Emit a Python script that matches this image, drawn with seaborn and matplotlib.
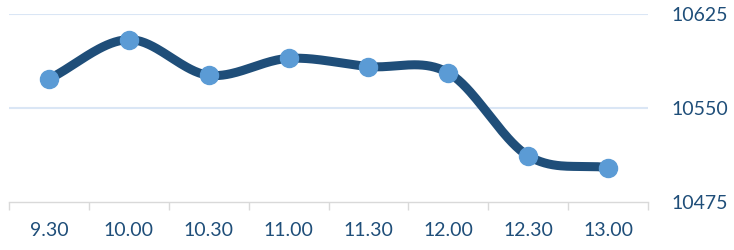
import numpy as np
import pandas as pd
import matplotlib
matplotlib.use("Agg")
import matplotlib.pyplot as plt
import seaborn as sns

categories = ["9.30", "10.00", "10.30", "11.00", "11.30", "12.00", "12.30", "13.00"]
values = [10573, 10604.5, 10576, 10589.5, 10583, 10578, 10511.5, 10502]
y_ticks = [10475, 10550, 10625]

LINE = "#1F4E79"
MARK = "#5B9BD5"
TEXT = "#1F4E79"
GRID = "#DAE6F5"

sns.set_theme(style="white")
plt.rcParams["font.family"] = ["Lato", "DejaVu Sans"]


def catmull_rom(x, y, n=40):
    x = np.asarray(x, float)
    y = np.asarray(y, float)
    px = np.concatenate([[2 * x[0] - x[1]], x, [2 * x[-1] - x[-2]]])
    py = np.concatenate([[2 * y[0] - y[1]], y, [2 * y[-1] - y[-2]]])
    xs, ys = [], []
    for i in range(1, len(px) - 2):
        t = np.linspace(0, 1, n, endpoint=(i == len(px) - 3))
        for p, out in ((px, xs), (py, ys)):
            p0, p1, p2, p3 = p[i - 1], p[i], p[i + 1], p[i + 2]
            out.append(0.5 * ((2 * p1) + (-p0 + p2) * t
                              + (2 * p0 - 5 * p1 + 4 * p2 - p3) * t ** 2
                              + (-p0 + 3 * p1 - 3 * p2 + p3) * t ** 3))
    return np.concatenate(xs), np.concatenate(ys)


idx = np.arange(len(categories))
sx, sy = catmull_rom(idx, values)
smooth = pd.DataFrame({"x": sx, "y": sy})
pts = pd.DataFrame({"x": idx, "y": values})

fig = plt.figure(figsize=(7.34, 2.5), dpi=100)
ax = fig.add_axes([9 / 734, 1 - 201.5 / 250, (648 - 9) / 734, (201.5 - 14) / 250])

sns.lineplot(data=smooth, x="x", y="y", ax=ax, color=LINE, linewidth=6.5,
             solid_capstyle="round", sort=False, zorder=3)
ax.plot(pts["x"], pts["y"], linestyle="none", marker="o", markersize=13,
        markerfacecolor=MARK, markeredgecolor=MARK, zorder=4)

ax.set_xlim(-0.5, len(categories) - 0.5)
ax.set_ylim(y_ticks[0], y_ticks[-1])
ax.set_xticks(idx)
ax.set_xticklabels(categories)
ax.set_xticks(np.arange(-0.5, len(categories)), minor=True)
ax.set_yticks(y_ticks)
ax.set_yticklabels([str(v) for v in y_ticks])
ax.yaxis.tick_right()

ax.tick_params(axis="x", which="major", length=0, pad=15, labelsize=14, labelcolor=TEXT)
ax.tick_params(axis="x", which="minor", length=6, width=1, color="#D9D9D9", direction="out", bottom=True)
ax.tick_params(axis="y", length=0, pad=17, labelsize=14, labelcolor=TEXT)

for v in y_ticks[1:]:
    ax.axhline(v, color=GRID, linewidth=1.5, zorder=1)

for s in ["top", "left", "right"]:
    ax.spines[s].set_visible(False)
ax.spines["bottom"].set_color("#D9D9D9")
ax.spines["bottom"].set_linewidth(1)
ax.set_xlabel("")
ax.set_ylabel("")

fig.savefig("out.png", dpi=100)
